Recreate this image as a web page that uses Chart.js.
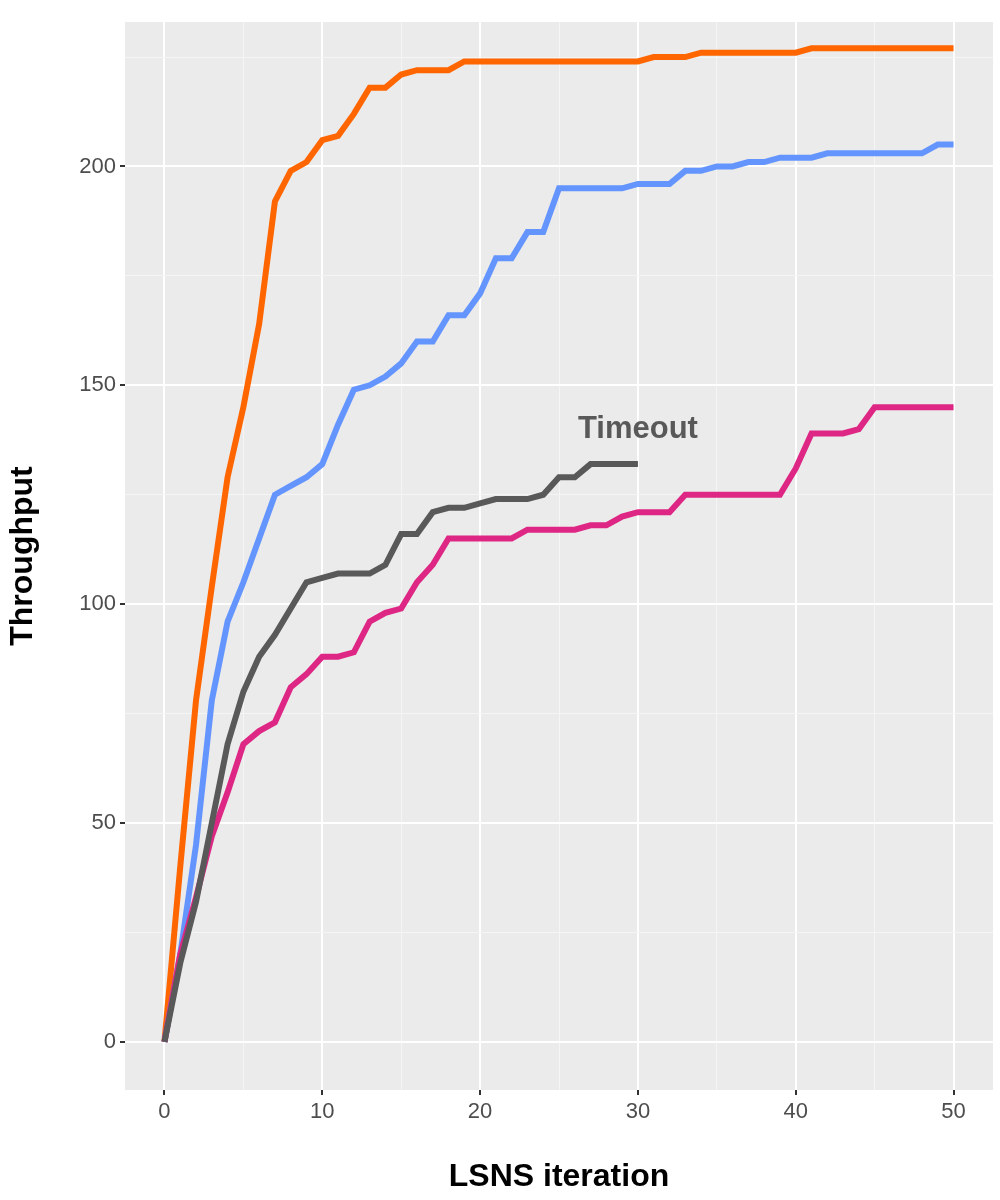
<!DOCTYPE html>
<html><head><meta charset="utf-8">
<script src="https://cdn.jsdelivr.net/npm/chart.js@4"></script>
<style>html,body{margin:0;padding:0;background:#fff}#w{width:1000px;height:1200px}</style>
</head><body><div id="w"><canvas id="c" width="1000" height="1200"></canvas></div>
<script>
const iterations = Array.from({length:51},(_,i)=>i);
const orange = [0,40,78,104,129,145,164,192,199,201,206,207,212,218,218,221,222,222,222,224,224,224,224,224,224,224,224,224,224,224,224,225,225,225,226,226,226,226,226,226,226,227,227,227,227,227,227,227,227,227,227];
const blue = [0,20,45,78,96,105,115,125,127,129,132,141,149,150,152,155,160,160,166,166,171,179,179,185,185,195,195,195,195,195,196,196,196,199,199,200,200,201,201,202,202,202,203,203,203,203,203,203,203,205,205];
const gray = [0,18,32,50,68,80,88,93,99,105,106,107,107,107,109,116,116,121,122,122,123,124,124,124,125,129,129,132,132,132,132];
const pink = [0,20,33,47,57,68,71,73,81,84,88,88,89,96,98,99,105,109,115,115,115,115,115,117,117,117,117,118,118,120,121,121,121,125,125,125,125,125,125,125,131,139,139,139,140,145,145,145,145,145,145];
const xTicks = [0,10,20,30,40,50];
const yTicks = [0,50,100,150,200];
const toPts = a => a.map((v,i)=>({x:iterations[i],y:v}));
const bg = {id:'bg',beforeDraw(ch){const a=ch.chartArea,c=ch.ctx;c.save();c.fillStyle='#EBEBEB';c.fillRect(a.left,a.top,a.right-a.left,a.bottom-a.top);c.restore();},
 afterDatasetsDraw(ch){const c=ch.ctx,x=ch.scales.x,y=ch.scales.y;c.save();c.font='bold 31px Liberation Sans, Arial';c.fillStyle='#595959';c.textAlign='center';c.textBaseline='middle';c.fillText('Timeout',x.getPixelForValue(30),y.getPixelForValue(140));c.restore();}};
const ds=(d,col)=>({data:toPts(d),borderColor:col,borderWidth:6,pointRadius:0,tension:0,fill:false});
new Chart(document.getElementById('c'),{type:'line',
data:{datasets:[ds(gray,'#595959'),ds(pink,'#DE2785'),ds(blue,'#6495FF'),ds(orange,'#FF6600')]},
options:{responsive:false,animation:false,layout:{padding:{top:22,right:7,left:0,bottom:0}},
plugins:{legend:{display:false},tooltip:{enabled:false}},
scales:{
x:{type:'linear',min:-2.5,max:52.5,afterFit:s=>{s.height=110;},
 afterBuildTicks:s=>{s.ticks=[];for(let v=0;v<=50;v+=5)s.ticks.push({value:v});},
 grid:{color:c=>c.tick&&c.tick.value%10===0?'#FFFFFF':'#F5F5F5',lineWidth:c=>c.tick&&c.tick.value%10===0?2:1,drawTicks:true,tickLength:5,tickColor:c=>c.tick&&c.tick.value%10===0?'#333':'rgba(0,0,0,0)'},
 border:{display:false},
 ticks:{color:'#4D4D4D',font:{size:22,family:'Liberation Sans, Arial'},padding:4,maxRotation:0,autoSkip:false,callback:v=>xTicks.includes(v)?String(v):''},
 title:{display:true,text:'LSNS iteration',color:'#000',font:{size:32,weight:'bold',family:'Liberation Sans, Arial'},padding:{top:30}}},
y:{type:'linear',min:-11,max:233,afterFit:s=>{s.width=125;},
 afterBuildTicks:s=>{s.ticks=[];for(let v=0;v<=225;v+=25)s.ticks.push({value:v});},
 grid:{color:c=>c.tick&&c.tick.value%50===0?'#FFFFFF':'#F5F5F5',lineWidth:c=>c.tick&&c.tick.value%50===0?2:1,tickLength:5,tickColor:c=>c.tick&&c.tick.value%50===0?'#333':'rgba(0,0,0,0)'},
 border:{display:false},
 ticks:{color:'#4D4D4D',font:{size:22,family:'Liberation Sans, Arial'},padding:4,autoSkip:false,callback:v=>yTicks.includes(v)?String(v):''},
 title:{display:true,text:'Throughput',color:'#000',font:{size:32,weight:'bold',family:'Liberation Sans, Arial'},padding:{bottom:20}}}
}},plugins:[bg]});
</script></body></html>
